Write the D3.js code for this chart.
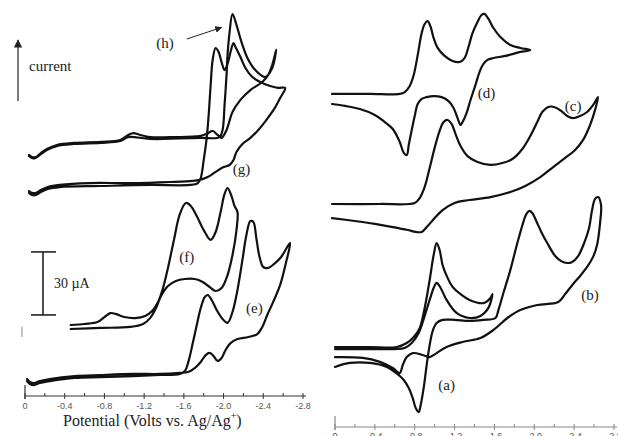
<!DOCTYPE html>
<html>
<head>
<meta charset="utf-8">
<script src="https://cdn.jsdelivr.net/npm/d3@7"></script>
<style>
  html, body { margin: 0; padding: 0; background: #fff; }
  svg { display: block; }
  .trace { fill: none; stroke: #111; stroke-width: 2.2; stroke-linejoin: round; stroke-linecap: round; }
  .lbl { font-family: "Liberation Serif", "Times New Roman", serif; fill: #222; }
  .tick-label { font-family: "Liberation Sans", Arial, sans-serif; font-size: 9px; fill: #555; }
</style>
</head>
<body>
<svg id="chart" width="618" height="436"></svg>
<script>
// ── Data: [potential (V vs Ag/Ag+), current (µA, stacked offset)] ─────────
// left panel
const traceH = [[-0.04,114.8],[-0.07,113.8],[-0.11,113.8],[-0.16,115.7],[-0.22,117.6],[-0.32,119.5],[-0.50,120.5],[-0.76,121.0],[-0.96,121.9],[-1.04,124.3],[-1.09,125.2],[-1.16,124.3],[-1.26,123.3],[-1.51,123.3],[-1.76,123.8],[-1.83,124.8],[-1.89,126.2],[-1.94,124.3],[-1.98,122.9],[-2.03,126.7],[-2.09,135.2],[-2.17,141.0],[-2.27,145.7],[-2.39,149.5],[-2.45,152.9],[-2.49,157.6],[-2.53,164.8],
  [-2.49,156.2],[-2.42,151.9],[-2.32,155.2],[-2.24,161.0],[-2.18,168.6],[-2.13,176.7],[-2.09,181.9],[-2.06,172.9],[-2.04,162.4],[-2.03,152.9],[-2.01,138.6],[-1.99,126.7],[-1.96,123.3],[-1.76,122.9],[-1.26,122.4],[-1.04,123.3],[-0.96,121.4],[-0.76,120.5],[-0.50,120.0],[-0.32,119.0],[-0.22,117.1],[-0.15,114.8],[-0.10,113.3],[-0.07,113.3],[-0.04,114.3]];

const traceG = [[-0.04,97.6],[-0.07,96.7],[-0.11,96.7],[-0.16,98.1],[-0.23,99.5],[-0.35,100.5],[-0.65,101.4],[-1.06,101.4],[-1.46,101.9],[-1.69,102.4],[-1.76,102.9],[-1.84,104.3],[-1.92,106.7],[-2.00,109.0],[-2.06,110.0],[-2.10,112.4],[-2.13,116.2],[-2.19,120.0],[-2.27,122.9],[-2.35,126.7],[-2.43,131.4],[-2.51,136.7],[-2.57,141.9],[-2.62,146.7],
  [-2.55,146.7],[-2.47,147.6],[-2.39,149.0],[-2.29,151.9],[-2.22,156.2],[-2.17,161.4],[-2.12,166.2],[-2.10,168.1],[-2.07,163.8],[-2.04,158.1],[-2.01,155.2],[-1.98,159.0],[-1.95,163.8],[-1.92,165.7],[-1.89,160.0],[-1.87,148.1],[-1.85,133.8],[-1.83,122.9],[-1.80,112.4],[-1.77,103.8],[-1.74,101.4],[-1.66,100.5],[-1.26,100.5],[-0.76,100.0],[-0.35,99.5],[-0.23,98.6],[-0.16,97.1],[-0.11,95.7],[-0.07,95.7],[-0.04,96.7]];

const traceF = [[-0.46,33.8],[-0.60,34.3],[-0.73,35.2],[-0.80,37.6],[-0.86,39.5],[-0.92,39.0],[-1.00,37.6],[-1.11,37.1],[-1.21,38.1],[-1.28,40.5],[-1.34,44.8],[-1.39,51.4],[-1.44,61.0],[-1.50,74.3],[-1.56,86.7],[-1.62,91.9],[-1.67,90.5],[-1.73,85.7],[-1.80,79.0],[-1.87,74.3],[-1.92,78.1],[-1.97,87.6],[-2.01,96.2],[-2.04,99.0],[-2.08,95.2],[-2.11,90.5],[-2.14,87.6],
  [-2.13,79.0],[-2.09,67.1],[-2.04,57.6],[-1.98,51.4],[-1.92,50.0],[-1.86,51.9],[-1.79,54.3],[-1.71,55.7],[-1.61,55.7],[-1.52,54.8],[-1.44,52.4],[-1.37,47.6],[-1.32,41.9],[-1.26,37.1],[-1.19,34.3],[-1.06,32.9],[-0.76,32.4],[-0.46,31.9]];

const traceE = [[-0.02,7.1],[-0.05,5.7],[-0.09,5.2],[-0.15,6.2],[-0.25,7.1],[-0.50,8.6],[-0.76,9.0],[-1.09,9.5],[-1.36,10.0],[-1.56,10.5],[-1.61,11.9],[-1.65,17.1],[-1.69,25.2],[-1.73,33.8],[-1.77,41.9],[-1.81,47.1],[-1.84,48.1],[-1.88,45.7],[-1.93,41.0],[-1.99,36.7],[-2.04,34.8],[-2.09,40.0],[-2.14,50.5],[-2.19,64.8],[-2.23,76.7],[-2.27,83.3],[-2.30,82.9],[-2.33,75.2],[-2.36,66.7],[-2.40,61.4],[-2.45,61.0],[-2.51,62.9],[-2.58,66.2],[-2.67,72.9],
  [-2.63,63.8],[-2.57,52.9],[-2.50,44.8],[-2.44,38.6],[-2.39,32.9],[-2.34,29.5],[-2.25,28.1],[-2.14,27.1],[-2.07,25.2],[-2.02,21.9],[-1.98,18.1],[-1.94,16.7],[-1.90,19.0],[-1.86,20.5],[-1.82,19.5],[-1.77,16.2],[-1.71,13.3],[-1.64,11.4],[-1.56,11.0],[-1.36,10.5],[-1.09,10.5],[-0.76,10.0],[-0.50,9.5],[-0.25,8.1],[-0.15,7.1],[-0.09,6.2],[-0.05,6.7],[-0.02,8.1]];

// right panel
const traceD = [[0.03,158.6],[-0.35,158.6],[-0.65,158.6],[-0.70,159.5],[-0.75,162.4],[-0.79,167.6],[-0.83,177.1],[-0.87,187.6],[-0.90,191.9],[-0.93,193.3],[-0.96,190.5],[-0.99,185.2],[-1.03,180.5],[-1.10,176.7],[-1.18,174.3],[-1.25,173.8],[-1.30,175.7],[-1.34,181.0],[-1.38,187.6],[-1.43,192.9],[-1.47,196.2],[-1.50,196.7],[-1.54,194.3],[-1.59,190.0],[-1.66,185.7],[-1.76,181.9],[-1.86,180.5],[-1.96,179.5],
  [-1.86,178.6],[-1.71,176.7],[-1.59,175.7],[-1.53,174.8],[-1.49,172.9],[-1.45,169.0],[-1.41,162.9],[-1.36,155.7],[-1.32,149.5],[-1.28,145.2],[-1.26,143.8],[-1.23,147.1],[-1.19,151.9],[-1.14,155.2],[-1.07,157.1],[-0.99,157.6],[-0.92,157.1],[-0.87,156.2],[-0.83,153.8],[-0.80,148.1],[-0.77,141.4],[-0.74,134.3],[-0.72,129.5],[-0.69,130.5],[-0.65,135.7],[-0.58,141.9],[-0.50,145.2],[-0.40,148.6],[-0.25,151.4],[-0.10,152.9],[0.03,153.8]];

const traceC = [[0.03,106.2],[-0.45,106.2],[-0.80,106.7],[-0.85,109.0],[-0.90,114.3],[-0.95,123.3],[-1.00,132.9],[-1.05,141.0],[-1.09,145.2],[-1.13,146.2],[-1.17,144.3],[-1.21,139.5],[-1.26,133.8],[-1.33,129.0],[-1.43,126.2],[-1.56,124.8],[-1.68,125.7],[-1.78,127.6],[-1.88,132.4],[-1.96,138.6],[-2.03,145.2],[-2.08,150.0],[-2.14,152.4],[-2.20,152.4],[-2.27,150.5],[-2.33,148.1],[-2.39,147.1],[-2.46,148.1],[-2.53,150.0],[-2.59,153.3],[-2.64,157.1],
  [-2.61,151.0],[-2.56,143.8],[-2.49,136.7],[-2.41,131.9],[-2.31,128.1],[-2.19,123.8],[-2.06,119.0],[-1.91,114.8],[-1.76,111.9],[-1.56,109.5],[-1.35,108.1],[-1.20,106.7],[-1.08,103.3],[-1.00,99.5],[-0.93,95.7],[-0.87,92.9],[-0.81,92.9],[-0.73,93.8],[-0.58,95.2],[-0.40,96.7],[-0.20,98.1],[0.03,99.5]];

const traceB = [[0,33.3],[-0.28,32.9],[-0.45,31.0],[-0.58,28.1],[-0.65,25.7],[-0.68,29.5],[-0.72,33.3],[-0.78,35.2],[-0.88,34.3],[-0.95,33.3],[-1.02,35.2],[-1.12,38.1],[-1.28,40.5],[-1.46,42.4],[-1.59,46.2],[-1.73,51.9],[-1.86,55.7],[-2.03,58.1],[-2.24,59.5],[-2.31,63.3],[-2.39,68.1],[-2.46,71.9],[-2.53,76.2],[-2.59,81.0],[-2.63,86.7],[-2.66,97.1],[-2.67,105.7],[-2.64,109.5],
  [-2.61,108.6],[-2.58,103.3],[-2.55,94.8],[-2.50,87.6],[-2.44,81.4],[-2.38,78.6],[-2.33,78.1],[-2.27,79.0],[-2.21,81.4],[-2.13,87.6],[-2.07,92.9],[-2.02,98.1],[-1.98,101.9],[-1.95,102.9],[-1.92,101.4],[-1.89,97.6],[-1.83,87.6],[-1.76,74.8],[-1.69,63.8],[-1.64,55.7],[-1.61,51.9],[-1.49,51.0],[-1.35,50.5],[-1.20,51.0],[-1.08,51.0],[-1.02,49.5],[-0.98,45.7],[-0.95,39.0],[-0.92,29.5],[-0.89,18.6],[-0.86,10.5],[-0.84,7.1],[-0.81,9.0],[-0.78,13.8],[-0.74,18.6],[-0.69,22.4],[-0.65,24.3],[-0.52,28.6],[-0.35,30.5],[-0.15,30.5],[0,28.6]];

const traceA = [[0,38.1],[-0.35,38.1],[-0.62,38.1],[-0.72,40.0],[-0.79,42.9],[-0.85,47.1],[-0.90,56.7],[-0.95,70.0],[-0.99,81.9],[-1.02,87.6],[-1.05,84.3],[-1.08,77.1],[-1.13,71.0],[-1.18,66.7],[-1.27,62.9],[-1.35,60.5],[-1.49,59.0],[-1.56,61.4],[-1.58,63.3],
  [-1.54,56.7],[-1.46,52.9],[-1.35,51.9],[-1.22,54.3],[-1.12,60.5],[-1.06,66.2],[-1.02,68.6],[-0.99,66.2],[-0.95,60.5],[-0.90,52.9],[-0.84,44.8],[-0.77,40.0],[-0.70,37.6],[-0.60,37.1],[-0.35,37.1],[0,37.1]];

const leftTraces = [traceH, traceG, traceF, traceE];
const rightTraces = [traceD, traceC, traceB, traceA];

// small zero-current markers left of the traces
const leftMarks = [[0.03, 28.1, 33.0]];

const leftTags = [
  { text: "(h)", E: -1.41, I: 168 },
  { text: "(g)", E: -2.18, I: 108 },
  { text: "(f)", E: -1.63, I: 66 },
  { text: "(e)", E: -2.31, I: 42 },
];
const rightTags = [
  { text: "(d)", E: -1.52, I: 159 },
  { text: "(c)", E: -2.39, I: 153 },
  { text: "(b)", E: -2.56, I: 63 },
  { text: "(a)", E: -1.12, I: 20 },
];

const tickValues = [0, -0.4, -0.8, -1.2, -1.6, -2.0, -2.4, -2.8];
const minorTicks = d3.range(0, 15).map((i) => -i * 0.2);
const tickLabels = ["0", "-0.4", "-0.8", "-1.2", "-1.6", "-2.0", "-2.4", "-2.8"];
const scaleBarValue = 30; // µA
const scaleBarBase = 38.6;

// ── Scales ────────────────────────────────────────────────────────────────
const xL = d3.scaleLinear().domain([0, -2.8]).range([25, 303]);
const yL = d3.scaleLinear().domain([0, 100]).range([396, 186]);
const xR = d3.scaleLinear().domain([0, -2.8]).range([335, 614]);
const yR = d3.scaleLinear().domain([0, 100]).range([427, 217]);

const svg = d3.select("#chart");
svg.append("rect").attr("width", 618).attr("height", 436).attr("fill", "#fff");

function lineFor(x, y) {
  return d3
    .line()
    .x((d) => x(d[0]))
    .y((d) => y(d[1]))
    .curve(d3.curveCatmullRom.alpha(0.5));
}

// ── Axis ──────────────────────────────────────────────────────────────────
function drawAxis(x, y0, color, labelY) {
  const g = svg.append("g");
  g.append("line")
    .attr("x1", x(0)).attr("x2", x(-2.8) + 3)
    .attr("y1", y0).attr("y2", y0)
    .attr("stroke", color).attr("stroke-width", 1.2);
  g.append("line")
    .attr("x1", x(0)).attr("x2", x(0))
    .attr("y1", y0 - 11).attr("y2", y0 + 3)
    .attr("stroke", color).attr("stroke-width", 1.2);
  g.selectAll(".minor")
    .data(minorTicks)
    .join("line")
    .attr("x1", (d) => x(d)).attr("x2", (d) => x(d))
    .attr("y1", y0 - 3).attr("y2", y0)
    .attr("stroke", color);
  g.selectAll(".major")
    .data(tickValues)
    .join("line")
    .attr("x1", (d) => x(d)).attr("x2", (d) => x(d))
    .attr("y1", y0).attr("y2", y0 + 3)
    .attr("stroke", color);
  g.selectAll("text")
    .data(tickValues)
    .join("text")
    .attr("class", "tick-label")
    .attr("x", (d) => x(d))
    .attr("y", labelY)
    .attr("text-anchor", "middle")
    .text((d, i) => tickLabels[i]);
}

drawAxis(xL, 396, "#333", 409);
drawAxis(xR, 427, "#888", 439);

// ── Traces ────────────────────────────────────────────────────────────────
svg.append("g")
  .selectAll("path")
  .data(leftTraces)
  .join("path")
  .attr("class", "trace")
  .attr("d", lineFor(xL, yL));

svg.append("g")
  .selectAll("path")
  .data(rightTraces)
  .join("path")
  .attr("class", "trace")
  .attr("d", lineFor(xR, yR));

svg.append("g")
  .selectAll("line")
  .data(leftMarks)
  .join("line")
  .attr("x1", (d) => xL(d[0])).attr("x2", (d) => xL(d[0]))
  .attr("y1", (d) => yL(d[1])).attr("y2", (d) => yL(d[2]))
  .attr("stroke", "#888").attr("stroke-width", 1);

// ── Curve tags ────────────────────────────────────────────────────────────
function drawTags(tags, x, y) {
  svg.append("g")
    .selectAll("text")
    .data(tags)
    .join("text")
    .attr("class", "lbl")
    .attr("font-size", 15)
    .attr("text-anchor", "middle")
    .attr("dominant-baseline", "central")
    .attr("x", (d) => x(d.E))
    .attr("y", (d) => y(d.I))
    .text((d) => d.text);
}
drawTags(leftTags, xL, yL);
drawTags(rightTags, xR, yR);

// arrow from (h) to its peak
const defs = svg.append("defs");
defs.append("marker")
  .attr("id", "head")
  .attr("viewBox", "0 0 10 10")
  .attr("refX", 9).attr("refY", 5)
  .attr("markerWidth", 7).attr("markerHeight", 7)
  .attr("orient", "auto")
  .append("path").attr("d", "M0,0 L10,5 L0,10 z").attr("fill", "#222");

svg.append("line")
  .attr("x1", xL(-1.63)).attr("y1", yL(170))
  .attr("x2", xL(-1.98)).attr("y2", yL(175.5))
  .attr("stroke", "#222").attr("stroke-width", 1)
  .attr("marker-end", "url(#head)");

// current arrow
svg.append("line")
  .attr("x1", 18).attr("y1", 101)
  .attr("x2", 18).attr("y2", 40)
  .attr("stroke", "#222").attr("stroke-width", 1.2)
  .attr("marker-end", "url(#head)");
svg.append("text")
  .attr("class", "lbl")
  .attr("font-size", 15)
  .attr("x", 29).attr("y", 71)
  .text("current");

// scale bar
const sbX = 43;
const sb = svg.append("g").attr("stroke", "#222").attr("stroke-width", 1.6);
sb.append("line").attr("x1", sbX).attr("x2", sbX)
  .attr("y1", yL(scaleBarBase)).attr("y2", yL(scaleBarBase + scaleBarValue));
sb.append("line").attr("x1", sbX - 12).attr("x2", sbX + 13)
  .attr("y1", yL(scaleBarBase)).attr("y2", yL(scaleBarBase));
sb.append("line").attr("x1", sbX - 12).attr("x2", sbX + 13)
  .attr("y1", yL(scaleBarBase + scaleBarValue)).attr("y2", yL(scaleBarBase + scaleBarValue));
svg.append("text")
  .attr("class", "lbl")
  .attr("font-size", 14)
  .attr("x", 54).attr("y", yL(scaleBarBase + scaleBarValue / 2) + 5)
  .text(scaleBarValue + " \u00b5A");

// axis title
const title = svg.append("text")
  .attr("class", "lbl")
  .attr("font-size", 16)
  .attr("x", 63).attr("y", 426);
title.append("tspan").text("Potential (Volts vs. Ag/Ag");
title.append("tspan").attr("dy", -7).attr("font-size", 10).text("+");
title.append("tspan").attr("dy", 7).text(")");
</script>
</body>
</html>
